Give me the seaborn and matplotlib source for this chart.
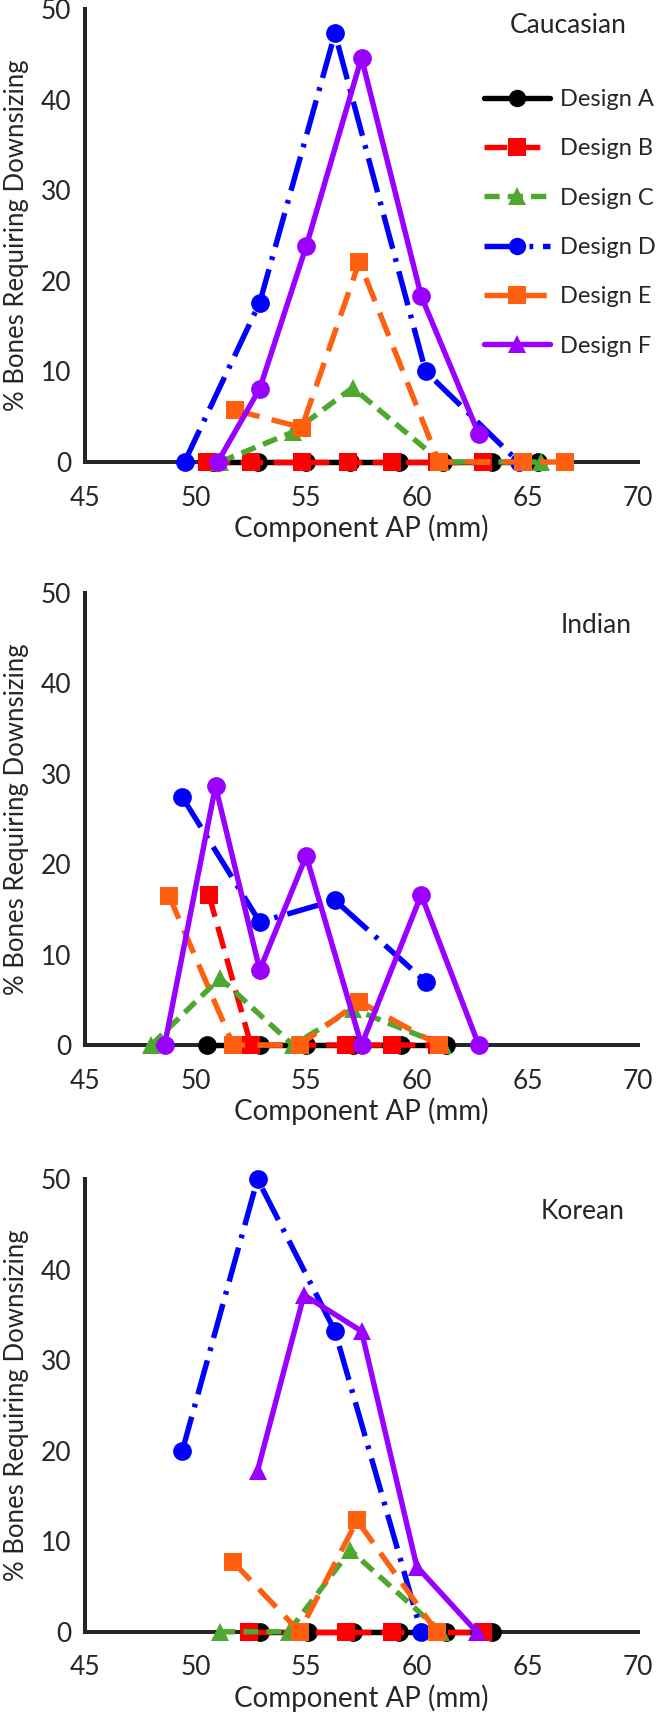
import numpy as np
import pandas as pd
import matplotlib
matplotlib.use("Agg")
import matplotlib.pyplot as plt
from matplotlib.lines import Line2D
import seaborn as sns

sns.set_style("white")
plt.rcParams['font.family'] = ['Lato', 'DejaVu Sans']

designs = ['Design A', 'Design B', 'Design C', 'Design D', 'Design E', 'Design F']

# ---- Caucasian ----
cau_a_x = [50.8, 52.8, 55.0, 57.0, 59.2, 61.2, 63.4, 65.5]
cau_a_y = [0, 0, 0, 0, 0, 0, 0, 0]
cau_b_x = [50.5, 52.5, 54.8, 56.9, 58.9, 60.9, 63.0]
cau_b_y = [0, 0, 0, 0, 0, 0, 0]
cau_c_x = [51.1, 54.4, 57.1, 61.1, 65.6]
cau_c_y = [0, 3.3, 8.2, 0, 0]
cau_d_x = [49.5, 52.9, 56.3, 60.4, 64.6]
cau_d_y = [0, 17.6, 47.3, 10.0, 0]
cau_e_x = [51.8, 54.8, 57.4, 61.0, 64.8, 66.7]
cau_e_y = [5.7, 3.8, 22.1, 0, 0, 0]
cau_f_x = [51.0, 52.9, 55.0, 57.5, 60.2, 62.8]
cau_f_y = [0, 8.1, 23.8, 44.6, 18.3, 3.1]

# ---- Indian ----
ind_a_x = [50.5, 52.9, 55.0, 57.1, 59.3, 61.3]
ind_a_y = [0, 0, 0, 0, 0, 0]
ind_b_x = [50.6, 52.5, 54.7, 56.8, 58.9, 60.9]
ind_b_y = [16.6, 0, 0, 0, 0, 0]
ind_c_x = [48.0, 51.1, 54.4, 57.1, 61.2]
ind_c_y = [0, 7.4, 0, 4.0, 0]
ind_d_x = [49.4, 52.9, 56.3, 60.4]
ind_d_y = [27.4, 13.6, 16.0, 7.0]
ind_e_x = [48.8, 51.7, 54.7, 57.4, 61.0]
ind_e_y = [16.5, 0, 0, 4.8, 0]
ind_f_x = [48.6, 50.9, 52.9, 55.0, 57.5, 60.2, 62.8]
ind_f_y = [0, 28.6, 8.3, 20.9, 0, 16.6, 0]

# ---- Korean ----
kor_a_x = [52.9, 55.1, 57.1, 59.2, 61.3, 63.4]
kor_a_y = [0, 0, 0, 0, 0, 0]
kor_b_x = [52.4, 54.7, 56.8, 58.9, 60.9, 63.0]
kor_b_y = [0, 0, 0, 0, 0, 0]
kor_c_x = [51.1, 54.2, 57.0, 61.1]
kor_c_y = [0, 0, 9.0, 0]
kor_d_x = [49.4, 52.8, 56.3, 60.2]
kor_d_y = [20.0, 50.0, 33.2, 0]
kor_e_x = [51.7, 54.7, 57.3, 60.9]
kor_e_y = [7.7, 0, 12.3, 0]
kor_f_x = [52.8, 54.9, 57.5, 60.0, 62.7]
kor_f_y = [17.8, 37.2, 33.2, 7.2, 0]

panels = [
    ('Caucasian', [(cau_a_x, cau_a_y), (cau_b_x, cau_b_y), (cau_c_x, cau_c_y),
                   (cau_d_x, cau_d_y), (cau_e_x, cau_e_y), (cau_f_x, cau_f_y)]),
    ('Indian', [(ind_a_x, ind_a_y), (ind_b_x, ind_b_y), (ind_c_x, ind_c_y),
                (ind_d_x, ind_d_y), (ind_e_x, ind_e_y), (ind_f_x, ind_f_y)]),
    ('Korean', [(kor_a_x, kor_a_y), (kor_b_x, kor_b_y), (kor_c_x, kor_c_y),
                (kor_d_x, kor_d_y), (kor_e_x, kor_e_y), (kor_f_x, kor_f_y)]),
]

colors = {'Design A': '#000000', 'Design B': '#ff0000', 'Design C': '#4ea72e',
          'Design D': '#0000ff', 'Design E': '#ff6010', 'Design F': '#9900ff'}
dashes = {'Design A': '', 'Design B': (4.2, 1.9), 'Design C': (2.8, 1.5),
          'Design D': (6.5, 1.8, 0.7, 1.8), 'Design E': (4.6, 2.3), 'Design F': ''}
mk_round = {'Design A': 'o', 'Design B': 's', 'Design C': '^',
            'Design D': 'o', 'Design E': 's', 'Design F': 'o'}
mk_tri = dict(mk_round, **{'Design F': '^'})

LW = 3.9
MS = 13.5
FS = 19

fig = plt.figure(figsize=(6.61, 17.18), dpi=100)
ax_rects = [[85/661, 0.7311, 553/661, 0.2637],
            [85/661, 0.3917, 553/661, 0.2633],
            [85/661, 0.0502, 553/661, 0.2635]]
label_pos = [(64.2, 48.2), (66.5, 46.4), (65.6, 46.4)]

for i, (name, series) in enumerate(panels):
    ax = fig.add_axes(ax_rects[i])
    frames = []
    for d, (xs, ys) in zip(designs, series):
        frames.append(pd.DataFrame({'ap': xs, 'pct': ys, 'design': d}))
    df = pd.concat(frames, ignore_index=True)
    sns.lineplot(data=df, x='ap', y='pct', hue='design', style='design',
                 hue_order=designs, style_order=designs, palette=colors,
                 dashes=dashes, markers=mk_tri if i == 2 else mk_round,
                 markersize=MS, linewidth=LW, markeredgewidth=0,
                 errorbar=None, sort=False, legend=False, clip_on=False, ax=ax)
    ax.set_xlim(45, 70)
    ax.set_ylim(0, 50)
    ax.set_xticks(np.arange(45, 71, 5))
    ax.set_yticks(np.arange(0, 51, 10))
    sns.despine(ax=ax)
    for s in ['left', 'bottom']:
        ax.spines[s].set_linewidth(2.9)
        ax.spines[s].set_zorder(0.5)
    ax.tick_params(direction='in', length=7, width=2.9, labelsize=FS)
    ax.tick_params(axis='x', pad=17)
    ax.tick_params(axis='y', pad=10)
    ax.set_xlabel('Component AP (mm)', fontsize=20, labelpad=3)
    ax.set_ylabel('% Bones Requiring Downsizing', fontsize=18.5, labelpad=8)
    ax.text(label_pos[i][0], label_pos[i][1], name, fontsize=19,
            ha='left', va='center')
    if i == 0:
        handles = [Line2D([], [], color=colors[d], lw=LW,
                          linestyle=(0, dashes[d]) if dashes[d] else '-',
                          marker=mk_tri[d], markersize=MS - 1, markeredgewidth=0)
                   for d in designs]
        ax.legend(handles, designs, loc='upper left', frameon=False,
                  bbox_to_anchor=(484/661, (1718-89)/1718),
                  bbox_transform=fig.transFigure, fontsize=17,
                  handlelength=2.8, handletextpad=0.4, labelspacing=1.2,
                  borderpad=0, borderaxespad=0)

fig.savefig('out.png', dpi=100)
